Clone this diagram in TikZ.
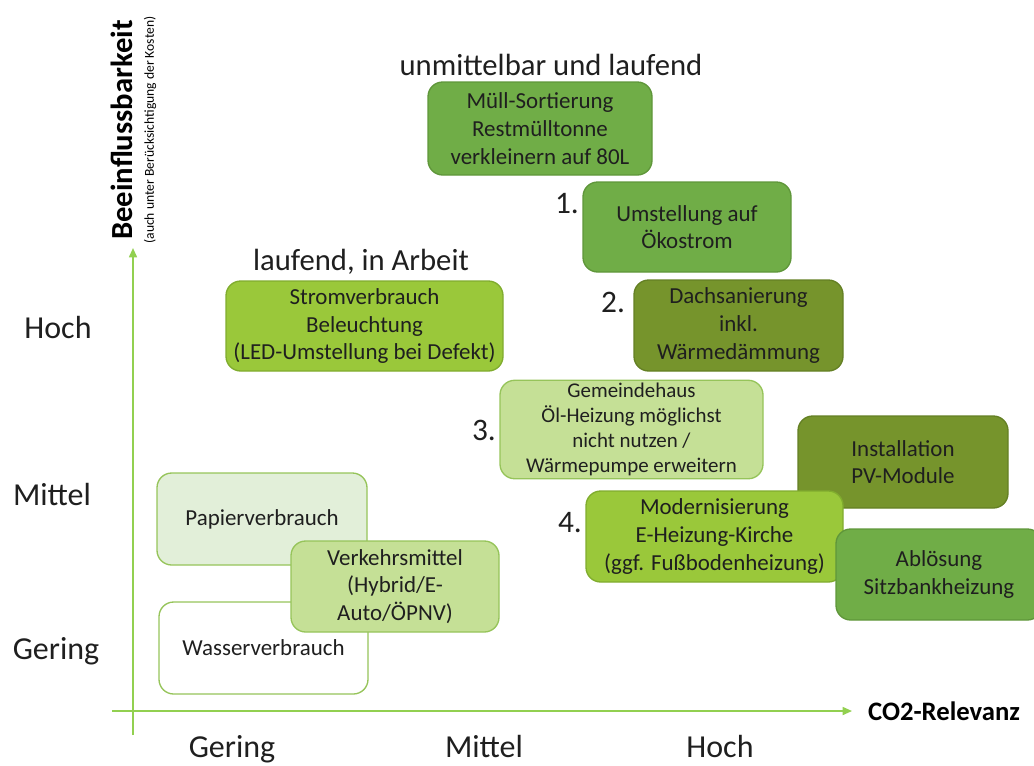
\documentclass[tikz,border=0pt]{standalone}
\usepackage{fontspec}
\setmainfont{Carlito}
\usetikzlibrary{arrows.meta}
\definecolor{gMid}{RGB}{112,173,71}
\definecolor{gMidB}{RGB}{95,150,58}
\definecolor{gOlive}{RGB}{118,148,44}
\definecolor{gOliveB}{RGB}{100,128,36}
\definecolor{gLime}{RGB}{154,200,58}
\definecolor{gLimeB}{RGB}{128,172,46}
\definecolor{gLight}{RGB}{197,224,150}
\definecolor{gLightB}{RGB}{150,196,90}
\definecolor{gPale}{RGB}{226,239,217}
\definecolor{gAxis}{RGB}{146,208,80}
\tikzset{
  box/.style={draw, line width=1pt, rounded corners=11pt, align=center, inner sep=2pt,
    font=\fontsize{17.2}{20.8}\selectfont, text=black!88},
  bMid/.style={box, fill=gMid, draw=gMidB},
  bOlive/.style={box, fill=gOlive, draw=gOliveB},
  bLime/.style={box, fill=gLime, draw=gLimeB},
  bLight/.style={box, fill=gLight, draw=gLightB},
  bPale/.style={box, fill=gPale, draw=gLightB},
  bWhite/.style={box, fill=white, draw=gLightB},
  axlab/.style={font=\fontsize{24}{28}\selectfont, text=black!88},
  head/.style={font=\fontsize{23}{27}\selectfont, text=black!88},
  num/.style={font=\fontsize{23.5}{27}\selectfont, text=black!88},
  axis/.style={draw=gAxis, line width=1.2pt, -{Triangle[length=7pt,width=6pt]}}
}
\begin{document}
\begin{tikzpicture}[x=0.75pt,y=-0.75pt]
\useasboundingbox (0,0) rectangle (1034,765);
% axes
\coordinate (yb) at (133,735);
\coordinate (yt) at (133,248);
\coordinate (xl) at (112,711);
\coordinate (xr) at (852,711);
\draw[axis] (yb) -- (yt);
\draw[axis] (xl) -- (xr);
% axis titles
\node[rotate=90, font=\bfseries\fontsize{23}{26}\selectfont] (ytitle) at (122,130) {Beeinflussbarkeit};
\node[rotate=90, font=\fontsize{10.2}{12}\selectfont] (ysub) at (150,130) {(auch unter Berücksichtigung der Kosten)};
\node[font=\bfseries\fontsize{20}{24}\selectfont] (xtitle) at (944,711) {CO2-Relevanz};
% axis labels
\node[axlab] (yH) at (58,327) {Hoch};
\node[axlab] (yM) at (52,494) {Mittel};
\node[axlab] (yG) at (56,651) {Gering};
\node[axlab, anchor=base] (xG) at (232,757) {Gering};
\node[axlab, anchor=base] (xM) at (484,757) {Mittel};
\node[axlab, anchor=base] (xH) at (720,757) {Hoch};
% headers
\node[head] (h1) at (551,65) {unmittelbar und laufend};
\node[head] (h2) at (361,262) {laufend, in Arbeit};
% boxes
\node[bMid, minimum width=224*0.75pt, minimum height=93*0.75pt] (muell) at (540,128.5)
  {Müll-Sortierung\\Restmülltonne\\verkleinern auf 80L};
\node[bMid, minimum width=208*0.75pt, minimum height=90*0.75pt] (oeko) at (687,227)
  {Umstellung auf\\Ökostrom};
\node[bOlive, minimum width=209*0.75pt, minimum height=91*0.75pt] (dach) at (738.5,325.5)
  {Dachsanierung\\inkl.\\Wärmedämmung};
\node[bLime, minimum width=277*0.75pt, minimum height=90*0.75pt] (strom) at (364.5,326)
  {Stromverbrauch\\Beleuchtung\\(LED-Umstellung bei Defekt)};
\node[bLight, minimum width=263*0.75pt, minimum height=97*0.75pt, font=\fontsize{15.7}{18.8}\selectfont] (gemeinde) at (631.5,429.5)
  {Gemeindehaus\\Öl-Heizung möglichst\\nicht nutzen /\\Wärmepumpe erweitern};
\node[bOlive, minimum width=210*0.75pt, minimum height=92*0.75pt] (pv) at (903,462)
  {Installation\\PV-Module};
\node[bLime, minimum width=257*0.75pt, minimum height=91*0.75pt] (modern) at (714.5,536.5)
  {Modernisierung\\E-Heizung-Kirche\\(ggf. Fußbodenheizung)};
\node[bMid, minimum width=206*0.75pt, minimum height=91*0.75pt] (abl) at (939,574.5)
  {Ablösung\\Sitzbankheizung};
\node[bPale, minimum width=210*0.75pt, minimum height=92*0.75pt] (papier) at (262,519)
  {Papierverbrauch};
\node[bWhite, minimum width=209*0.75pt, minimum height=92*0.75pt] (wasser) at (263.5,648)
  {Wasserverbrauch};
\node[bLight, minimum width=208*0.75pt, minimum height=91*0.75pt] (verkehr) at (395,586.5)
  {Verkehrsmittel\\(Hybrid/E-\\Auto/ÖPNV)};
% numbers
\node[num] (n1) at (567,204) {1.};
\node[num] (n2) at (613,302) {2.};
\node[num] (n3) at (484,430) {3.};
\node[num] (n4) at (570,523) {4.};
\end{tikzpicture}
\end{document}
